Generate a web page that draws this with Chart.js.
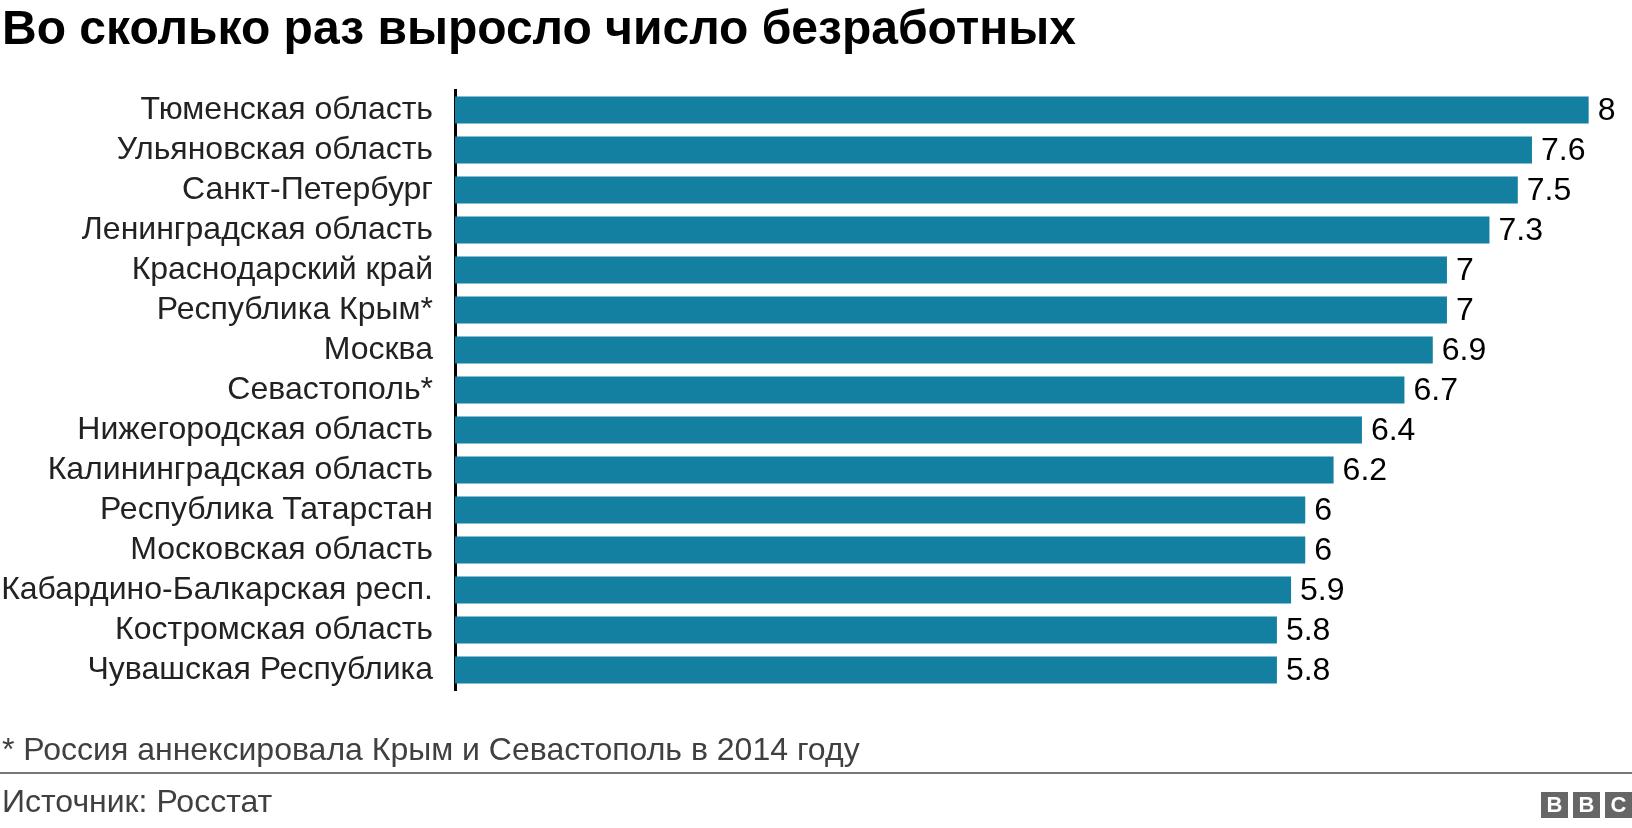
<!DOCTYPE html>
<html>
<head>
<meta charset="utf-8">
<script src="https://cdn.jsdelivr.net/npm/chart.js@4"></script>
<style>
  body { margin: 0; background: #fff; font-family: "Liberation Sans", Arial, sans-serif; }
  #wrap { position: relative; width: 1632px; height: 828px; overflow: hidden; }
  #chart { position: absolute; left: 0; top: 0; }
  .title { position: absolute; left: 2px; top: 4px; font-size: 48px; line-height: 1; font-weight: bold; color: #000; white-space: nowrap; }
  .note { position: absolute; left: 2px; top: 733px; font-size: 32px; line-height: 1; color: #404040; white-space: nowrap; }
  .rule { position: absolute; left: 0; top: 772px; width: 1632px; height: 2px; background: #777; }
  .source { position: absolute; left: 2px; top: 785px; font-size: 32px; line-height: 1; color: #404040; white-space: nowrap; }
  .bbc { position: absolute; right: 0; top: 792px; display: flex; gap: 5px; }
  .bbc span { width: 27px; height: 26px; background: #666; color: #fff; font-weight: bold; font-size: 22px; line-height: 26px; text-align: center; }
</style>
</head>
<body>
<div id="wrap">
  <canvas id="chart" width="1632" height="828"></canvas>
  <div class="title">Во сколько раз выросло число безработных</div>
  <div class="note">* Россия аннексировала Крым и Севастополь в 2014 году</div>
  <div class="rule"></div>
  <div class="source">Источник: Росстат</div>
  <div class="bbc"><span>B</span><span>B</span><span>C</span></div>
</div>
<script>
var regions = [
    'Тюменская область',
    'Ульяновская область',
    'Санкт-Петербург',
    'Ленинградская область',
    'Краснодарский край',
    'Республика Крым*',
    'Москва',
    'Севастополь*',
    'Нижегородская область',
    'Калининградская область',
    'Республика Татарстан',
    'Московская область',
    'Кабардино-Балкарская респ.',
    'Костромская область',
    'Чувашская Республика'
];
var growth = [8, 7.6, 7.5, 7.3, 7, 7, 6.9, 6.7, 6.4, 6.2, 6, 6, 5.9, 5.8, 5.8];

var valueLabels = {
    id: 'valueLabels',
    afterDatasetsDraw: function (chart) {
        var ctx = chart.ctx;
        var meta = chart.getDatasetMeta(0);
        ctx.save();
        ctx.font = '32px "Liberation Sans", Arial, sans-serif';
        ctx.fillStyle = '#000';
        ctx.textAlign = 'left';
        ctx.textBaseline = 'middle';
        meta.data.forEach(function (bar, i) {
            ctx.fillText(String(chart.data.datasets[0].data[i]), bar.x + 9, bar.y + 1);
        });
        ctx.restore();
    }
};

var ctx = document.getElementById('chart').getContext('2d');
var chart = new Chart(ctx, {
    type: 'bar',
    data: {
        labels: regions,
        datasets: [{
            data: growth,
            backgroundColor: '#1380A1',
            barPercentage: 0.675,
            categoryPercentage: 1
        }]
    },
    options: {
        indexAxis: 'y',
        responsive: false,
        animation: false,
        devicePixelRatio: 1,
        layout: { padding: { top: 90, bottom: 138, left: 0, right: 15 } },
        plugins: { legend: { display: false }, tooltip: { enabled: false } },
        scales: {
            x: { display: false, min: 0, max: 8.2 },
            y: {
                afterFit: function (scale) { scale.width = 455; },
                grid: { display: false, drawTicks: false },
                border: { display: true, color: '#000', width: 3 },
                ticks: {
                    autoSkip: false,
                    padding: 22,
                    color: '#222',
                    font: { family: '"Liberation Sans", Arial, sans-serif', size: 32 }
                }
            }
        }
    },
    plugins: [valueLabels]
});
</script>
</body>
</html>
